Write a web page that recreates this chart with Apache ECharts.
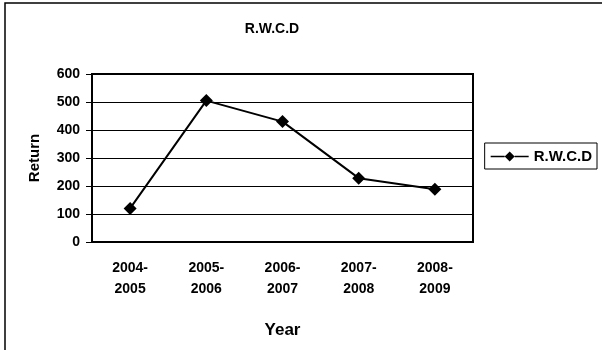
<!DOCTYPE html>
<html>
<head>
<meta charset="utf-8">
<script src="https://cdn.jsdelivr.net/npm/echarts@6/dist/echarts.min.js"></script>
<style>
  html, body { margin: 0; padding: 0; background: #fff; }
  #chart { width: 602px; height: 350px; }
</style>
</head>
<body>
<div id="chart"></div>
<script>
// data
var years = ['2004-\n2005', '2005-\n2006', '2006-\n2007', '2007-\n2008', '2008-\n2009']
var rwcd = [120, 505, 430, 228, 188]
var seriesName = 'R.W.C.D'

var font = 'Liberation Sans, Arial, sans-serif'
var chart = echarts.init(document.getElementById('chart'))
chart.setOption({
  animation: false,
  backgroundColor: '#fff',
  title: {
    text: 'R.W.C.D',
    left: 267,
    top: 17,
    textAlign: 'center',
    textStyle: { fontFamily: font, fontSize: 14, fontWeight: 'bold', color: '#000' }
  },
  legend: {
    right: 5,
    top: 143,
    orient: 'vertical',
    itemWidth: 38,
    itemHeight: 12,
    itemGap: 4,
    padding: [6, 5, 5, 6],
    borderColor: '#000',
    borderWidth: 1,
    borderRadius: 0,
    textStyle: { fontFamily: font, fontSize: 15, fontWeight: 'bold', color: '#000' },
    data: [{ name: seriesName, icon: 'path://M0,5.2 L14,5.2 L14,6.8 L0,6.8 Z M14,6 L19,1 L24,6 L19,11 Z M24,5.2 L38,5.2 L38,6.8 L24,6.8 Z' }]
  },
  graphic: [{
    type: 'rect',
    shape: { x: 5, y: 3, width: 700, height: 500 },
    style: { fill: 'none', stroke: '#000', lineWidth: 1.5 },
    silent: true,
    z: -1
  }],
  grid: {
    left: 92,
    right: 129,
    top: 74,
    bottom: 108,
    show: true,
    borderColor: '#000',
    borderWidth: 2
  },
  xAxis: {
    type: 'category',
    data: years,
    name: 'Year',
    nameLocation: 'middle',
    nameGap: 80,
    nameTextStyle: { fontFamily: font, fontSize: 17, fontWeight: 'bold', color: '#000' },
    axisLine: { lineStyle: { color: '#000', width: 2 } },
    axisTick: { alignWithLabel: false, length: 5, lineStyle: { color: '#000' } },
    axisLabel: { fontFamily: font, fontSize: 14, fontWeight: 'bold', color: '#000', margin: 16, lineHeight: 21 }
  },
  yAxis: {
    type: 'value',
    min: 0,
    max: 600,
    interval: 100,
    name: 'Return',
    nameLocation: 'middle',
    nameGap: 50,
    nameTextStyle: { fontFamily: font, fontSize: 15, fontWeight: 'bold', color: '#000' },
    axisLine: { show: true, lineStyle: { color: '#000', width: 2 } },
    axisTick: { show: true, length: 6, lineStyle: { color: '#000' } },
    axisLabel: { fontFamily: font, fontSize: 14, fontWeight: 'bold', color: '#000', margin: 12 },
    splitLine: { lineStyle: { color: '#000', width: 1 } }
  },
  series: [
    {
      name: seriesName,
      type: 'line',
      data: rwcd,
      symbol: 'diamond',
      symbolSize: 13,
      itemStyle: { color: '#000' },
      lineStyle: { color: '#000', width: 2 }
    }
  ]
})
</script>
</body>
</html>
